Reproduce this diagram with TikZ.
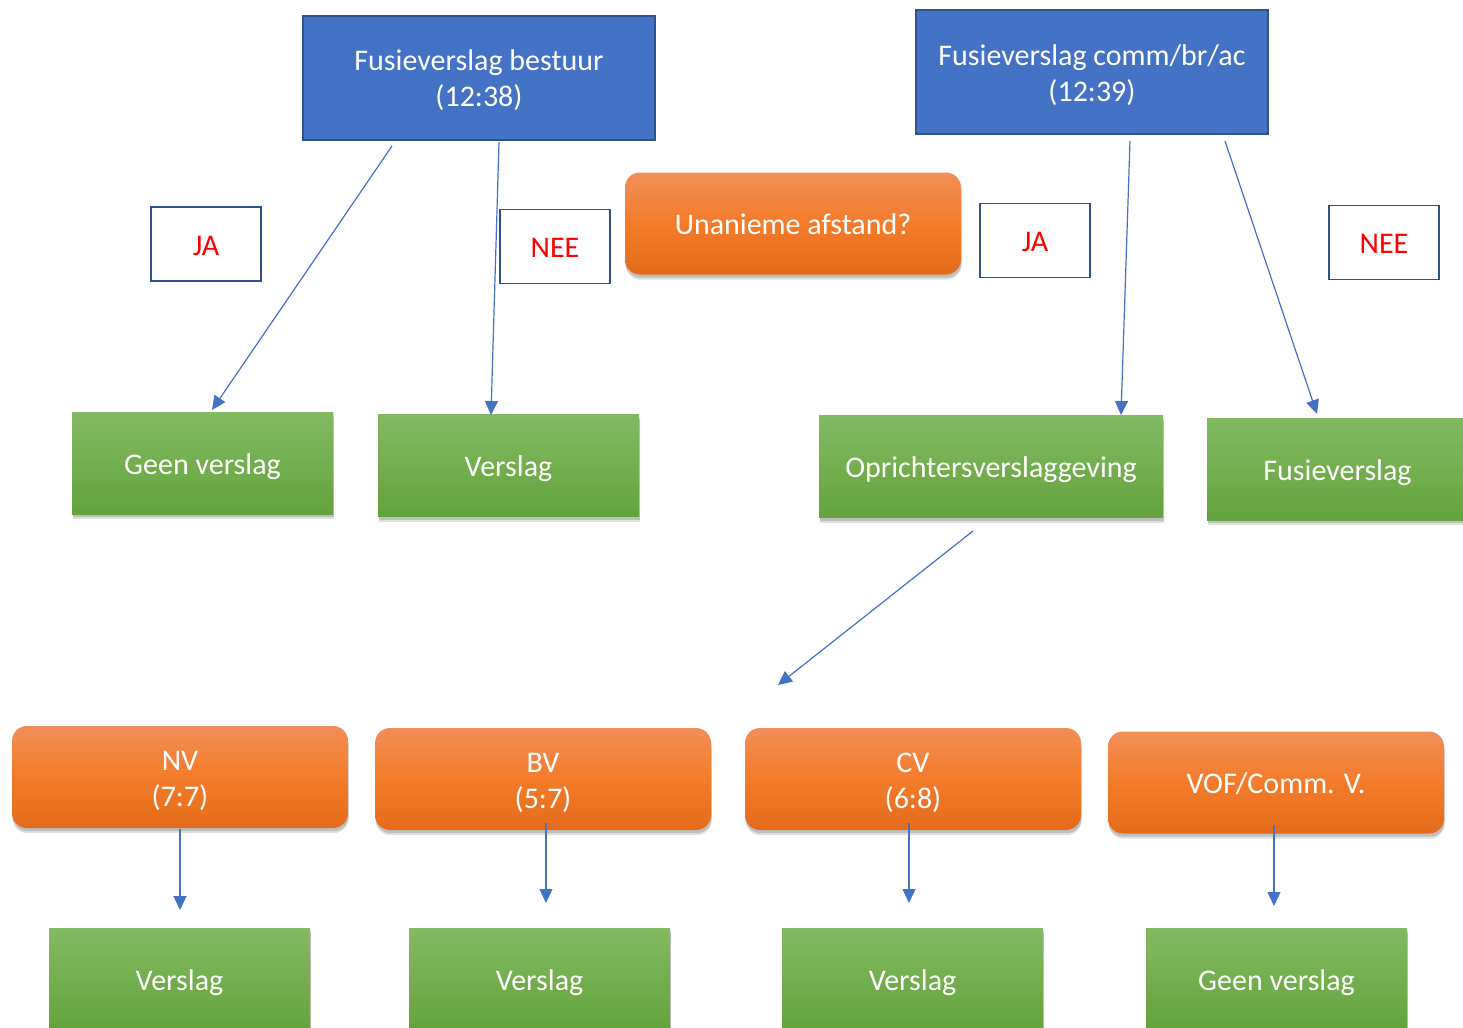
\documentclass[tikz,border=0pt]{standalone}
\usepackage{fontspec}
\setmainfont{Carlito}
\usetikzlibrary{arrows.meta,shadows}
\definecolor{bfill}{HTML}{4472C4}
\definecolor{bline}{HTML}{2F528F}
\definecolor{otop}{HTML}{F18F58}
\definecolor{omid}{HTML}{F47B2A}
\definecolor{obot}{HTML}{E36B19}
\definecolor{gtop}{HTML}{83BA63}
\definecolor{gbot}{HTML}{63A33B}
\definecolor{arrc}{HTML}{4472C4}
\definecolor{redt}{HTML}{FF0000}
\newcommand\lbl[1]{\begin{tabular}{@{}c@{}}\rule{0pt}{16.4pt}#1\end{tabular}}
\tikzset{
  x=0.5pt, y=-0.5pt,
  every node/.style={font=\fontsize{15}{18}\selectfont, inner sep=0pt},
  softshadow/.style={
    drop shadow={shadow xshift=0.3pt, shadow yshift=-2.6pt, opacity=0.12, fill=black},
    drop shadow={shadow xshift=0.3pt, shadow yshift=-1.6pt, opacity=0.15, fill=black}},
  bluebox/.style={draw=bline, line width=1pt, fill=bfill, text=white, minimum width=176pt, minimum height=62pt},
  orbox/.style={rounded corners=7.5pt, top color=otop, bottom color=obot, middle color=omid, text=white,
    minimum width=168pt, minimum height=51pt, softshadow},
  grbox/.style={top color=gtop, bottom color=gbot, text=white, minimum width=130.5pt, minimum height=51pt, softshadow},
  ansbox/.style={draw=bline, line width=0.9pt, fill=white, text=redt, minimum width=55pt, minimum height=37pt},
  arr/.style={draw=arrc, line width=0.6pt, -{Triangle[length=7pt,width=6.5pt]}}
}
\begin{document}
\begin{tikzpicture}
\useasboundingbox (0,0) rectangle (1463,1028);
\clip (0,0) rectangle (1463,1028);
% top blue boxes
\node[bluebox] (b1) at (479,77.5) {\lbl{Fusieverslag bestuur\\(12:38)}};
\node[bluebox] (b2) at (1092,72) {\lbl{Fusieverslag comm/br/ac\\(12:39)}};
% question
\node[orbox] (q) at (793,223.5) {\lbl{Unanieme afstand?}};
% answer labels
\node[ansbox] (ja1) at (206,244) {\lbl{JA}};
\node[ansbox] (nee1) at (555,246.5) {\lbl{NEE}};
\node[ansbox] (ja2) at (1035,240.5) {\lbl{JA}};
\node[ansbox] (nee2) at (1384,242.5) {\lbl{NEE}};
% green row 1
\node[grbox] (g1) at (202.5,463) {\lbl{Geen verslag}};
\node[grbox] (g2) at (508.5,465.5) {\lbl{Verslag}};
\node[grbox, minimum width=172pt] (g3) at (991,466.5) {\lbl{Oprichtersverslaggeving}};
\node[grbox] (g4) at (1337.5,469) {\lbl{Fusieverslag}};
% orange row
\node[orbox] (o1) at (180,777) {\lbl{NV\\(7:7)}};
\node[orbox] (o2) at (543,779) {\lbl{BV\\(5:7)}};
\node[orbox] (o3) at (913,779) {\lbl{CV\\(6:8)}};
\node[orbox] (o4) at (1276,782.5) {\lbl{VOF/Comm. V.}};
% green bottom row
\node[grbox] (r1) at (179.5,979) {\lbl{Verslag}};
\node[grbox] (r2) at (539.5,979) {\lbl{Verslag}};
\node[grbox] (r3) at (912.5,979) {\lbl{Verslag}};
\node[grbox] (r4) at (1276.5,979) {\lbl{Geen verslag}};
% connector ends
\coordinate (s1) at (392,146);  \coordinate (e1) at (212,410);
\coordinate (s2) at (499,142);  \coordinate (e2) at (491,415);
\coordinate (s3) at (1130,141); \coordinate (e3) at (1121,415);
\coordinate (s4) at (1225,141); \coordinate (e4) at (1317,414);
\coordinate (s5) at (973,531);  \coordinate (e5) at (778,685);
\coordinate (s6) at (180,829);  \coordinate (e6) at (180,910);
\coordinate (s7) at (546,823);  \coordinate (e7) at (546,903);
\coordinate (s8) at (909,823);  \coordinate (e8) at (909,903);
\coordinate (s9) at (1274,825); \coordinate (e9) at (1274,906);
\draw[arr] (s1) -- (e1);
\draw[arr] (s2) -- (e2);
\draw[arr] (s3) -- (e3);
\draw[arr] (s4) -- (e4);
\draw[arr] (s5) -- (e5);
\draw[arr] (s6) -- (e6);
\draw[arr] (s7) -- (e7);
\draw[arr] (s8) -- (e8);
\draw[arr] (s9) -- (e9);
\end{tikzpicture}
\end{document}
